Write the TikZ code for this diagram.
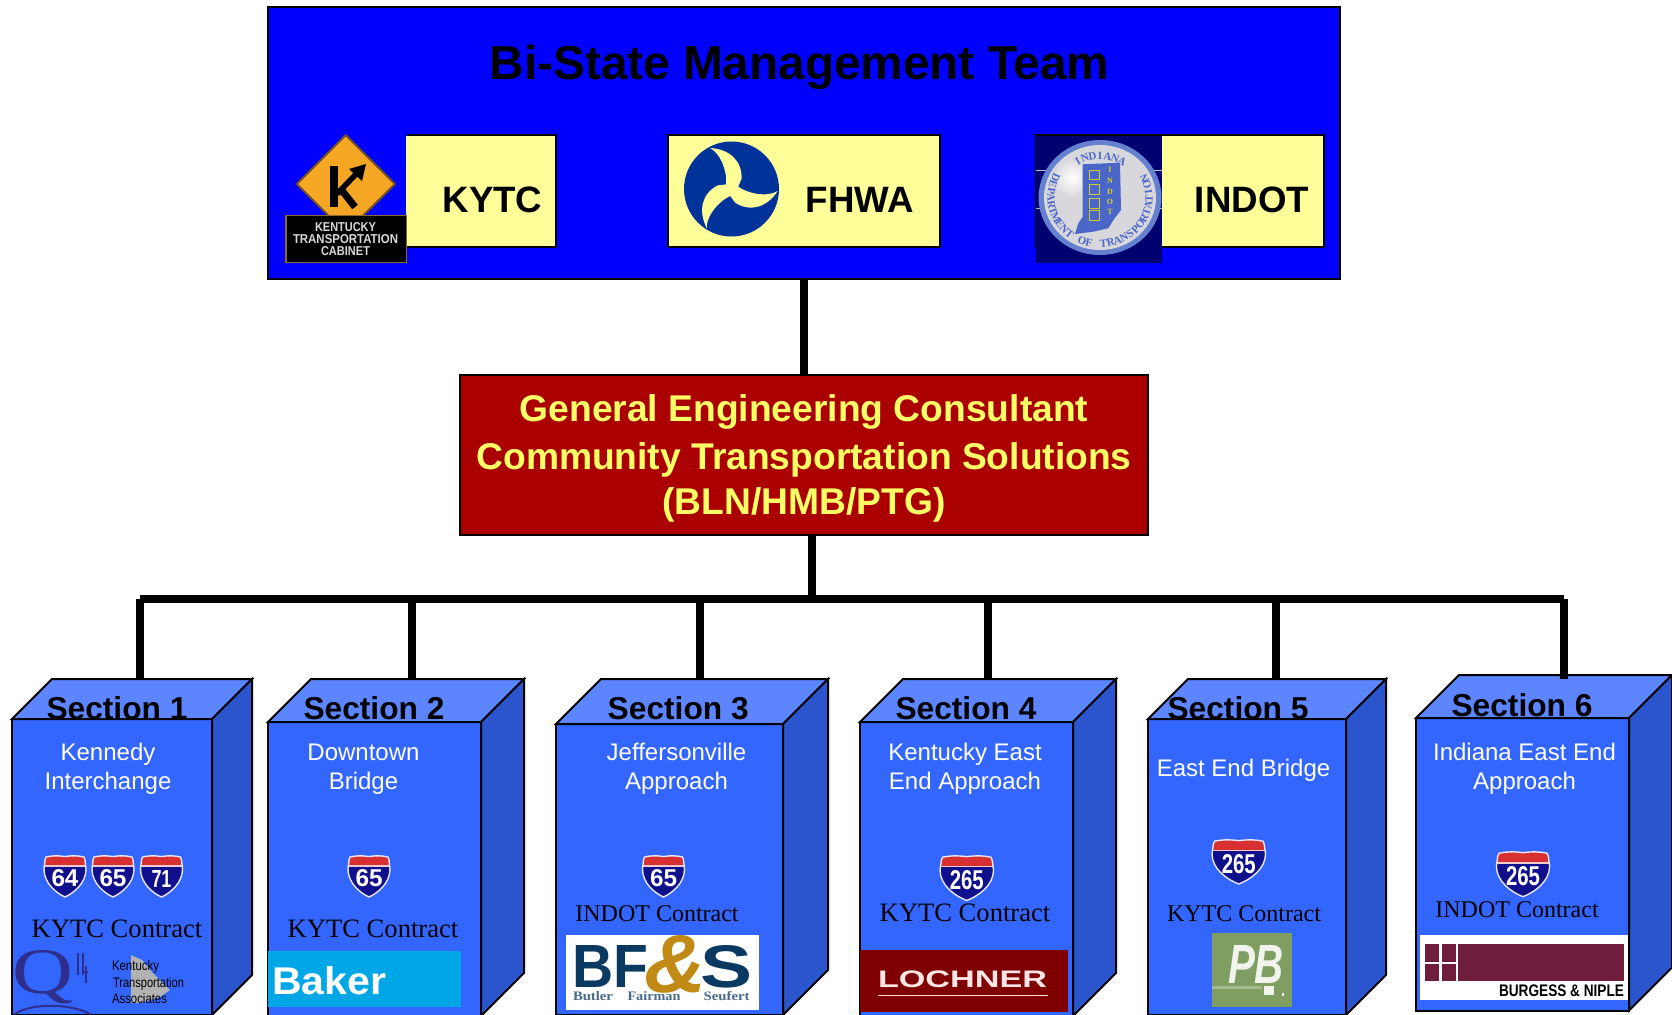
\documentclass[tikz,border=0pt]{standalone}
\usepackage{fontspec}
\usepackage{graphicx}
\usetikzlibrary{shapes.geometric}
\setmainfont{Liberation Sans}
\newfontfamily\serifx{Liberation Serif}
\newcommand\fs[1]{\fontsize{#1}{#1}\selectfont}
\newcommand\fitbox[3]{\resizebox{#1pt}{#2pt}{#3}}
\definecolor{mgmtblue}{HTML}{0000FF}
\definecolor{paleyel}{HTML}{FFFF99}
\definecolor{gecyel}{HTML}{FFFF66}
\definecolor{gecred}{HTML}{AA0000}
\definecolor{cfront}{HTML}{3366FF}
\definecolor{ctop}{HTML}{5C85FF}
\definecolor{cside}{HTML}{2B55CC}
\definecolor{shnavy}{HTML}{10108C}
\definecolor{shred}{HTML}{D83030}
\definecolor{dotnavy}{HTML}{003399}
\definecolor{bfnavy}{HTML}{0A3A62}
\definecolor{bfgold}{HTML}{C08A14}
\definecolor{bnmar}{HTML}{701C3C}
\definecolor{pbgreen}{HTML}{7F9F62}
\definecolor{indnavy}{HTML}{000070}
\definecolor{indring}{HTML}{6680D0}
\definecolor{indgrey}{HTML}{D8D8DC}
\definecolor{indblue}{HTML}{4A66C8}
\definecolor{signorange}{HTML}{F5A623}
\definecolor{signedge}{HTML}{6B4E2A}
\definecolor{platerim}{HTML}{8A6A2A}
\definecolor{bakerblue}{HTML}{00A6E6}
\definecolor{lochred}{HTML}{7F0000}
\definecolor{qnavy}{HTML}{2E2E8C}
\tikzset{
  every node/.style={inner sep=0pt,outer sep=0pt},
  bluebox/.style={rectangle,draw=black,line width=2pt,fill=mgmtblue,anchor=north west},
  yelbox/.style={draw=black,line width=2pt,fill=paleyel},
  link/.style={draw=black,line width=8pt},
  cuboidedge/.style={draw=black,line width=2pt,line join=miter},
  sectitle/.style={anchor=base,font=\fs{31.7}\bfseries,text=black},
  secsub/.style={anchor=base,font=\fs{24},text=white},
  contract/.style={anchor=base,font=\serifx\fs{26.6},text=black},
  sealtext/.style={text=indblue,font=\serifx\fs{11}\bfseries},
  panelword/.style={anchor=base,font=\fs{36.7}\bfseries},
  gecline/.style={anchor=base,font=\fs{37.2}\bfseries,text=gecyel},
  badge/.style={insert path={(2,2) .. controls (8,0.5) and (14,0.5) .. (21,1.5) .. controls (28,0.5) and (34,0.5) .. (40,2) -- (41,5) -- (42,14) .. controls (42,28) and (30,38) .. (21,42) .. controls (12,38) and (0,28) .. (0,14) -- (1,5) -- cycle}},
}
% name, left, right, front top, depth, bottom
\newcommand\cuboid[6]{%
  \filldraw[cuboidedge,fill=cfront] (#2,#4) rectangle (#3,#6);
  \filldraw[cuboidedge,fill=ctop] (#2,#4) -- ({#2+#5},{#4-#5}) -- ({#3+#5},{#4-#5}) -- (#3,#4) -- cycle;
  \filldraw[cuboidedge,fill=cside] (#3,#4) -- ({#3+#5},{#4-#5}) -- ({#3+#5},{#6-#5}) -- (#3,#6) -- cycle;
}
% name, x, y, w, h, number, number w, number h
\newcommand\ishield[8]{%
  \begin{scope}[shift={(#2,#3)},x={#4*1pt/42},y={-#5*1pt/42}]
    \begin{scope}
      \path[badge,clip];
      \fill[shnavy] (0,0) rectangle (42,44);
      \fill[shred] (0,0) rectangle (42,10);
      \fill[white!75!shred] (0,10) rectangle (42,11.5);
    \end{scope}
    \draw[white!90!shnavy,line width=1.4pt,badge];
    \node[text=white] (#1) at (21,23.5) {\fitbox{#7}{#8}{\bfseries #6}};
  \end{scope}
}
\begin{document}
\begin{tikzpicture}[x=1pt,y=-1pt]
\useasboundingbox (0,0) rectangle (1672,1014);
\fill[white] (0,0) rectangle (1672,1014);

% Top panel
\node[bluebox,minimum width=1072pt,minimum height=271pt] (mgmt) at (268,7.5) {};
\node[anchor=base,font=\fs{47.7}\bfseries] (title) at (799.5,79.5) {Bi-State Management Team};

\filldraw[yelbox] (395,135) rectangle (556,247);
\filldraw[yelbox] (668,135) rectangle (940,247);
\filldraw[yelbox] (1036,135) rectangle (1324,247);
\node[panelword] (kytc) at (492.5,212) {KYTC};
\node[panelword] (fhwa) at (860,212) {FHWA};
\node[panelword] (indot) at (1252,212) {INDOT};

% KYTC logo
\fill[mgmtblue] (285,134) rectangle (407,263);
\fill[paleyel] (406,136) rectangle (408,246);
\filldraw[fill=signorange,draw=signedge,line width=2pt,line join=round] (345.7,135) -- (395,184) -- (345.7,233) -- (296.7,184) -- cycle;
\draw[black,line width=7.5pt] (334,166) -- (334,207);
\draw[black,line width=7pt] (340,188) -- (355,207);
\draw[black,line width=5.5pt] (337,194) -- (357,173);
\fill[black] (366,164) -- (362,181) -- (349,169) -- cycle;
\filldraw[fill=black,draw=platerim,line width=1.2pt] (286,215.5) rectangle (406.5,262.5);
\node[text=black!15] (kt1) at (345.5,227) {\fitbox{61}{9}{\bfseries KENTUCKY}};
\node[text=black!15] (kt2) at (345.5,239) {\fitbox{105}{9}{\bfseries TRANSPORTATION}};
\node[text=black!15] (kt3) at (345.5,251) {\fitbox{49}{9}{\bfseries CABINET}};

% FHWA logo
\fill[dotnavy] (731.5,189) circle (47.5);
\begin{scope}[shift={(731.5,189)}]
  \foreach \a in {0,120,240} {
    \fill[paleyel,rotate=\a] (-21.5,-41) .. controls (-2,-40) and (11,-28) .. (10,-10) -- (3,6) -- (-7,0) .. controls (-2,-8) and (-8,-34) .. (-21.5,-41) -- cycle;
  }
\end{scope}

% INDOT logo
\fill[indnavy] (1036,135.7) rectangle (1161.7,262.7);
\draw[black!25,line width=1pt] (1036,170) -- (1161.7,170) (1036,208.7) -- (1161.7,208.7);
\fill[indring] (1100,197.5) ellipse (61.5 and 57.5);
\fill[indgrey] (1100,197.5) ellipse (56 and 52.5);
\shade[inner color=white,outer color=indgrey] (1072,178) circle (20);
\fill[indblue] (1082.7,164.3) -- (1120,162.7) -- (1121,210) -- (1113.3,220) -- (1108.3,228.3) -- (1093.3,231.7) -- (1075,234) -- (1078.3,223.3) -- (1082.7,216.7) -- cycle;
\foreach \yy in {170,184.5,198.5,210.5} {
  \draw[yellow!80!black,line width=0.9pt] (1089,\yy) rectangle (1099.5,{\yy+9.5});
}
\foreach \l/\yy/\nm in {I/170/a,N/180.5/b,D/191.5/c,O/201.5/d,T/211.5/e} {
  \node[text=yellow!85!black,font=\serifx\fs{8}\bfseries] (indl\nm) at (1110,\yy) {\l};
}
\foreach \c [count=\i from 0] in {I,N,D,I,A,N,A} {
  \pgfmathsetmacro\th{240+10*\i}
  \pgfmathsetmacro\rt{270-\th}
  \node[sealtext,rotate=\rt] (sa\i) at ({1100+44*cos(\th)},{197.5+42*sin(\th)}) {\c};
}
\foreach \c [count=\i from 0] in {D,E,P,A,R,T,M,E,N,T,{},O,F,{},T,R,A,N,S,P,O,R,T,A,T,I,O,N} {
  \pgfmathsetmacro\th{205-8.5*\i}
  \pgfmathsetmacro\rt{90-\th}
  \node[sealtext,rotate=\rt] (sb\i) at ({1100+49*cos(\th)},{197.5+46*sin(\th)}) {\c};
}

% GEC
\node[rectangle,draw=black,line width=2pt,fill=gecred,minimum width=688pt,minimum height=160.5pt,anchor=north west] (gec) at (460,374.5) {};
\node[gecline] (g1) at (804,421) {General Engineering Consultant};
\node[gecline] (g2) at (804,469) {Community Transportation Solutions};
\node[gecline] (g3) at (804,514) {(BLN/HMB/PTG)};

% Section boxes
\cuboid{c1}{12}{212}{719}{40}{1015}
\cuboid{c2}{268}{481}{722}{43}{1016}
\cuboid{c3}{556}{783}{724}{45}{1015}
\cuboid{c4}{860}{1073}{722}{43}{1016}
\cuboid{c5}{1148}{1346}{719}{40}{1015}
\cuboid{c6}{1416}{1629}{718}{43}{1010.5}

% Connectors
\coordinate (busL) at (140,599);
\coordinate (busR) at (1564,599);
\coordinate (s1) at (140,680);
\coordinate (s2) at (412,680);
\coordinate (s3) at (700,680);
\coordinate (s4) at (987.6,680);
\coordinate (s5) at (1276,680);
\coordinate (s6) at (1564,679);
\coordinate (gecout) at (812,535);
\draw[link] (mgmt) -- (gec);
\draw[link] (gecout) -- (gecout |- busL);
\draw[link] (busL) -- (busR);
\foreach \s in {s1,s2,s3,s4,s5,s6} { \draw[link] (\s |- busL) -- (\s); }

% Section titles
\node[sectitle] (t1) at (117,719) {Section 1};
\node[sectitle] (t2) at (374,719) {Section 2};
\node[sectitle] (t3) at (678.2,719) {Section 3};
\node[sectitle] (t4) at (966,719) {Section 4};
\node[sectitle] (t5) at (1238,719) {Section 5};
\node[sectitle] (t6) at (1522,716) {Section 6};

% Section descriptions
\node[secsub] (d1a) at (108,760) {Kennedy};
\node[secsub] (d1b) at (108,789) {Interchange};
\node[secsub] (d2a) at (363.5,760) {Downtown};
\node[secsub] (d2b) at (363.5,789) {Bridge};
\node[secsub] (d3a) at (676.5,760) {Jeffersonville};
\node[secsub] (d3b) at (676.5,789) {Approach};
\node[secsub] (d4a) at (965,760) {Kentucky East};
\node[secsub] (d4b) at (965,789) {End Approach};
\node[secsub] (d5a) at (1243.5,776) {East End Bridge};
\node[secsub] (d6a) at (1524.5,760) {Indiana East End};
\node[secsub] (d6b) at (1524.5,789) {Approach};

% Shields
\ishield{h1}{44}{855}{42}{42}{64}{27}{17}
\ishield{h2}{92}{855}{42}{42}{65}{27}{17}
\ishield{h3}{140.5}{855}{42}{42}{71}{20}{17}
\ishield{h4}{348}{855}{42}{42}{65}{27}{17}
\ishield{h5}{642.5}{855}{42}{42}{65}{27}{17}
\ishield{h6}{940}{855}{53.5}{45.5}{265}{34}{19}
\ishield{h7}{1212}{839}{53.5}{45}{265}{34}{19}
\ishield{h8}{1496.4}{851}{53.2}{45.7}{265}{34}{19}

% Contract labels
\node[contract] (k1) at (117,937) {KYTC Contract};
\node[contract] (k2) at (373,937) {KYTC Contract};
\node[contract,font=\serifx\fs{24}] (k3) at (657,921.7) {INDOT Contract};
\node[contract] (k4) at (965,921.7) {KYTC Contract};
\node[contract,font=\serifx\fs{24}] (k5) at (1244,921.7) {KYTC Contract};
\node[contract,font=\serifx\fs{24}] (k6) at (1517,917) {INDOT Contract};

% Section 1 firm marks
\node[text=qnavy] (qmark) at (43,977) {\fitbox{61}{43}{\serifx Q}};
\draw[qnavy,line width=2pt] (78,953) -- (78,975) (83,953) -- (83,975);
\draw[qnavy,line width=2pt] (82,972) -- (88,972) (86,966) -- (86,983);
\draw[qnavy,line width=2pt] (15,1014) .. controls (30,1003) and (70,1003) .. (90,1014);
\fill[black!30] (131,955) -- (142,960) -- (152,972) -- (170,990) -- (160,997) -- (140,1003) -- (131,1003) -- cycle;
\node[anchor=west] (ka1) at (112,967) {\fitbox{47}{10}{Kentucky}};
\node[anchor=west] (ka2) at (113,984) {\fitbox{71}{10}{Transportation}};
\node[anchor=west] (ka3) at (112,999) {\fitbox{55}{10}{Associates}};

% Baker
\fill[bakerblue] (268,951) rectangle (461.4,1007);
\node[anchor=base west,text=white] (baker) at (272,994) {\fitbox{114}{28}{\bfseries Baker}};

% BF&S
\fill[white] (566,935) rectangle (759,1010);
\node[anchor=base west,text=bfnavy] (bf) at (572,987) {\fitbox{76}{42}{\bfseries BF}};
\node[anchor=base east,text=bfnavy] (bs) at (752.5,987) {\fitbox{52}{42}{\bfseries S}};
\node[anchor=base,text=bfgold] (bamp) at (676,992) {\fitbox{62}{57}{\bfseries\itshape \&}};
\node[anchor=base west,text=bfnavy!75] (bt1) at (573,1000) {\fitbox{40}{9}{\serifx\bfseries Butler}};
\node[anchor=base west,text=bfnavy!75] (bt2) at (627.5,1000) {\fitbox{53}{9}{\serifx\bfseries Fairman}};
\node[anchor=base west,text=bfnavy!75] (bt3) at (703.6,1000) {\fitbox{46}{9}{\serifx\bfseries Seufert}};

% Lochner
\fill[lochred] (859.6,950) rectangle (1068,1012);
\node[text=white!90!red] (lochner) at (962.5,979) {\fitbox{169}{16.7}{\bfseries LOCHNER}};
\draw[white!85!red,line width=1pt] (878,995) -- (1048,995);

% PB
\fill[pbgreen] (1212,933) rectangle (1292,1007);
\draw[pbgreen!70!white,line width=3pt] (1212,987) -- (1262,987);
\node[text=white!88!pbgreen] (pb) at (1256,964) {\fitbox{56}{38}{\bfseries\itshape PB}};
\fill[white!88!pbgreen] (1264,986) rectangle (1274,995);
\fill[white!88!pbgreen] (1282,993) rectangle (1284,996);

% Burgess & Niple
\fill[white] (1419.7,935) rectangle (1628,1000);
\fill[bnmar] (1425.2,944) rectangle (1439.4,961.7);
\fill[bnmar] (1442,944) rectangle (1456,961.7);
\fill[bnmar] (1425.2,964) rectangle (1439.4,980.7);
\fill[bnmar] (1442,964) rectangle (1456,980.7);
\fill[bnmar] (1457.7,944) rectangle (1624.3,980.7);
\node (bn) at (1561.5,990.8) {\fitbox{125}{11.7}{\bfseries BURGESS \& NIPLE}};
\end{tikzpicture}
\end{document}
